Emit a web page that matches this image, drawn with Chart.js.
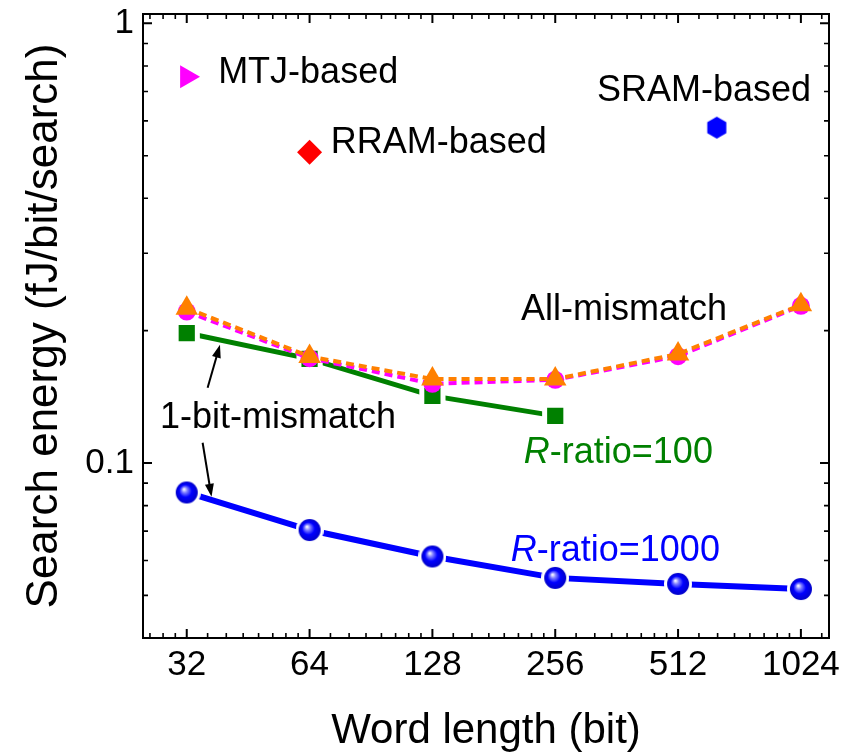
<!DOCTYPE html>
<html>
<head>
<meta charset="utf-8">
<script src="https://cdn.jsdelivr.net/npm/chart.js@4"></script>
<style>
  body { margin: 0; background: #fff; }
  #chart { display: block; }
</style>
</head>
<body>
<canvas id="chart" width="841" height="754"></canvas>
<script>
// word length (bit) and search energy (fJ/bit/search)
const wordLength = [32, 64, 128, 256, 512, 1024];
const energyR1000 = [0.0857, 0.0704, 0.0613, 0.0548, 0.0531, 0.0517];
const wordLengthR100 = [32, 64, 128, 256];
const energyR100 = [0.1975, 0.1725, 0.1421, 0.128];
const allMismatchCircle = [0.221, 0.1732, 0.1514, 0.1546, 0.175, 0.2278];
const allMismatchTriangle = [0.225, 0.1747, 0.1552, 0.1552, 0.177, 0.229];

// reference designs
const mtjPoint = [32, 0.756];
const rramPoint = [64, 0.509];
const sramPoint = [637, 0.579];

const xTicks = [32, 64, 128, 256, 512, 1024];
const yTicks = [0.1, 1];
const yMinor = [0.05, 0.06, 0.07, 0.08, 0.09, 0.2, 0.3, 0.4, 0.5, 0.6, 0.7, 0.8, 0.9];

// text labels, anchored at left / vertical middle
const noteText = ['MTJ-based', 'RRAM-based', 'SRAM-based', 'All-mismatch', '1-bit-mismatch'];
const noteX = [38.2, 72.1, 324, 211, 27.5];
const noteY = [0.783, 0.543, 0.713, 0.2265, 0.1288];

const ratioText = ['100', '1000'];
const ratioColor = ['#008000', '#0000ff'];
const ratioX = [214.4, 199.2];
const ratioY = [0.1072, 0.0639];

// arrows from "1-bit-mismatch" to both curves
const arrowFrom = [[36.0, 0.1483], [35.0, 0.1112]];
const arrowTo = [[38.6, 0.1858], [36.8, 0.0838]];

const FONT = '"Liberation Sans", Arial, Helvetica, sans-serif';

function pts(xs, ys) {
  return xs.map((x, i) => ({ x: x, y: ys[i] }));
}

// shiny sphere marker with a white halo so the line stops short of it
function ballSprite(r, ring) {
  const c = document.createElement('canvas');
  const s = 2 * (r + ring);
  c.width = c.height = s;
  const g = c.getContext('2d');
  const m = s / 2;
  g.fillStyle = '#fff';
  g.beginPath(); g.arc(m, m, r + ring, 0, Math.PI * 2); g.fill();
  const grad = g.createRadialGradient(m - r * 0.25, m - r * 0.3, 0.5, m, m, r);
  grad.addColorStop(0, '#f4f4ff');
  grad.addColorStop(0.22, '#8080ff');
  grad.addColorStop(0.55, '#0000ff');
  grad.addColorStop(1, '#0000c8');
  g.fillStyle = grad;
  g.beginPath(); g.arc(m, m, r, 0, Math.PI * 2); g.fill();
  return c;
}

function hexSprite(r, color) {
  const c = document.createElement('canvas');
  const s = 2 * r + 2;
  c.width = c.height = s;
  const g = c.getContext('2d');
  const m = s / 2;
  g.fillStyle = color;
  g.beginPath();
  for (let k = 0; k < 6; k++) {
    const a = -Math.PI / 2 + k * Math.PI / 3;
    const px = m + r * Math.cos(a), py = m + r * Math.sin(a);
    if (k === 0) g.moveTo(px, py); else g.lineTo(px, py);
  }
  g.closePath();
  g.fill();
  return c;
}

// minor ticks on the log2 axis: 8 linear steps per octave
const xMinor = [];
for (let b = 16; b <= 1024; b *= 2) {
  for (let i = 1; i < 8; i++) {
    const v = b * (1 + i / 8);
    if (v > 25 && v < 1200) xMinor.push(v);
  }
}

// box frame with inward ticks on all four sides
const frameTicks = {
  id: 'frameTicks',
  afterDatasetsDraw(chart) {
    const { ctx, chartArea: a, scales } = chart;
    const xs = scales.x, ys = scales.y;
    ctx.save();
    ctx.strokeStyle = '#000';
    ctx.lineCap = 'butt';
    const tick = (vals, len, w) => {
      ctx.lineWidth = w;
      ctx.beginPath();
      vals.forEach(v => {
        const px = xs.getPixelForValue(v);
        ctx.moveTo(px, a.bottom); ctx.lineTo(px, a.bottom - len);
        ctx.moveTo(px, a.top); ctx.lineTo(px, a.top + len);
      });
      ctx.stroke();
    };
    const ytick = (vals, len, w) => {
      ctx.lineWidth = w;
      ctx.beginPath();
      vals.forEach(v => {
        const py = ys.getPixelForValue(v);
        ctx.moveTo(a.left, py); ctx.lineTo(a.left + len, py);
        ctx.moveTo(a.right, py); ctx.lineTo(a.right - len, py);
      });
      ctx.stroke();
    };
    tick(xTicks, 9, 2);
    tick(xMinor, 5, 1.6);
    ytick(yTicks, 9, 2);
    ytick(yMinor, 5, 1.6);
    ctx.lineWidth = 2;
    ctx.strokeRect(a.left, a.top, a.right - a.left, a.bottom - a.top);
    ctx.restore();
  }
};

const notes = {
  id: 'notes',
  afterDatasetsDraw(chart) {
    const { ctx, scales } = chart;
    const xs = scales.x, ys = scales.y;
    const size = 36;
    ctx.save();
    ctx.textBaseline = 'alphabetic';
    ctx.textAlign = 'left';
    ctx.font = size + 'px ' + FONT;
    ctx.fillStyle = '#000';
    noteText.forEach((t, i) => {
      ctx.fillText(t, xs.getPixelForValue(noteX[i]), ys.getPixelForValue(noteY[i]) + size * 0.358);
    });
    ratioText.forEach((t, i) => {
      let px = xs.getPixelForValue(ratioX[i]);
      const py = ys.getPixelForValue(ratioY[i]) + size * 0.358;
      ctx.fillStyle = ratioColor[i];
      ctx.font = 'italic ' + size + 'px ' + FONT;
      ctx.fillText('R', px, py);
      px += ctx.measureText('R').width;
      ctx.font = size + 'px ' + FONT;
      ctx.fillText('-ratio=' + t, px, py);
    });
    // arrows
    ctx.strokeStyle = '#000';
    ctx.fillStyle = '#000';
    ctx.lineWidth = 2;
    arrowFrom.forEach((f, i) => {
      const x0 = xs.getPixelForValue(f[0]), y0 = ys.getPixelForValue(f[1]);
      const x1 = xs.getPixelForValue(arrowTo[i][0]), y1 = ys.getPixelForValue(arrowTo[i][1]);
      const ang = Math.atan2(y1 - y0, x1 - x0);
      const hl = 13, hw = 4.5;
      ctx.beginPath();
      ctx.moveTo(x0, y0);
      ctx.lineTo(x1 - Math.cos(ang) * hl * 0.8, y1 - Math.sin(ang) * hl * 0.8);
      ctx.stroke();
      ctx.beginPath();
      ctx.moveTo(x1, y1);
      ctx.lineTo(x1 - Math.cos(ang) * hl - Math.sin(ang) * hw, y1 - Math.sin(ang) * hl + Math.cos(ang) * hw);
      ctx.lineTo(x1 - Math.cos(ang) * hl + Math.sin(ang) * hw, y1 - Math.sin(ang) * hl - Math.cos(ang) * hw);
      ctx.closePath();
      ctx.fill();
    });
    ctx.restore();
  }
};

const ball = ballSprite(11, 3);
const hex = hexSprite(11, '#0000ff');

const data = {
  datasets: [
    {
      label: 'R-ratio=1000',
      data: pts(wordLength, energyR1000),
      showLine: true,
      borderColor: '#0000ff',
      borderWidth: 6,
      pointStyle: ball,
      pointRadius: 11,
      order: 3
    },
    {
      label: 'R-ratio=100',
      data: pts(wordLengthR100, energyR100),
      showLine: true,
      borderColor: '#008000',
      backgroundColor: '#008000',
      borderWidth: 5,
      pointStyle: 'rect',
      pointRadius: 15,
      pointBorderColor: '#fff',
      pointBorderWidth: 5,
      order: 2
    },
    {
      label: 'All-mismatch (circle)',
      data: pts(wordLength, allMismatchCircle),
      showLine: true,
      borderColor: '#ff00ff',
      backgroundColor: '#ff00ff',
      borderWidth: 4,
      borderDash: [8, 5],
      pointStyle: 'circle',
      pointRadius: 9,
      pointBorderWidth: 0,
      order: 1
    },
    {
      label: 'All-mismatch (triangle)',
      data: pts(wordLength, allMismatchTriangle),
      showLine: true,
      borderColor: '#ff8000',
      backgroundColor: '#ff8000',
      borderWidth: 4,
      borderDash: [8, 5],
      pointStyle: 'triangle',
      pointRadius: 13,
      pointBorderWidth: 0,
      order: 0
    },
    {
      label: 'MTJ-based',
      data: [{ x: mtjPoint[0], y: mtjPoint[1] }],
      backgroundColor: '#ff00ff',
      pointStyle: 'triangle',
      pointRotation: 90,
      pointRadius: 13.3,
      pointBorderWidth: 0
    },
    {
      label: 'RRAM-based',
      data: [{ x: rramPoint[0], y: rramPoint[1] }],
      backgroundColor: '#ff0000',
      pointStyle: 'rectRot',
      pointRadius: 12.5,
      pointBorderWidth: 0
    },
    {
      label: 'SRAM-based',
      data: [{ x: sramPoint[0], y: sramPoint[1] }],
      pointStyle: hex,
      pointRadius: 11
    }
  ]
};

const config = {
  type: 'scatter',
  data: data,
  options: {
    responsive: false,
    animation: false,
    layout: { autoPadding: false, padding: { top: 14, right: 12, left: 0, bottom: 0 } },
    plugins: {
      legend: { display: false },
      tooltip: { enabled: false }
    },
    scales: {
      x: {
        type: 'logarithmic',
        min: 25,
        max: 1200,
        bounds: 'data',
        afterBuildTicks: s => { s.ticks = xTicks.map(v => ({ value: v })); },
        afterFit: s => {
          s.height = 116;
          s.paddingLeft = 0;
          s.paddingRight = 0;
        },
        grid: { display: false, drawTicks: false },
        border: { display: false },
        ticks: {
          autoSkip: false,
          maxRotation: 0,
          padding: 6,
          color: '#000',
          font: { family: FONT, size: 35 },
          callback: v => String(v)
        },
        title: {
          display: true,
          text: 'Word length (bit)',
          color: '#000',
          font: { family: FONT, size: 42 },
          padding: { top: 0, bottom: -3 }
        }
      },
      y: {
        type: 'logarithmic',
        min: 0.04,
        max: 1.05,
        bounds: 'data',
        afterBuildTicks: s => { s.ticks = yTicks.map(v => ({ value: v })); },
        afterFit: s => {
          s.width = 143;
          s.paddingTop = 0;
          s.paddingBottom = 0;
        },
        grid: { display: false, drawTicks: false },
        border: { display: false },
        ticks: {
          autoSkip: false,
          padding: 9,
          color: '#000',
          font: { family: FONT, size: 35 },
          callback: v => String(v)
        },
        title: {
          display: true,
          text: 'Search energy (fJ/bit/search)',
          color: '#000',
          font: { family: FONT, size: 44 },
          padding: { top: 18, bottom: 0 }
        }
      }
    }
  },
  plugins: [frameTicks, notes]
};

const ctx = document.getElementById('chart').getContext('2d');
const myChart = new Chart(ctx, config);
</script>
</body>
</html>
